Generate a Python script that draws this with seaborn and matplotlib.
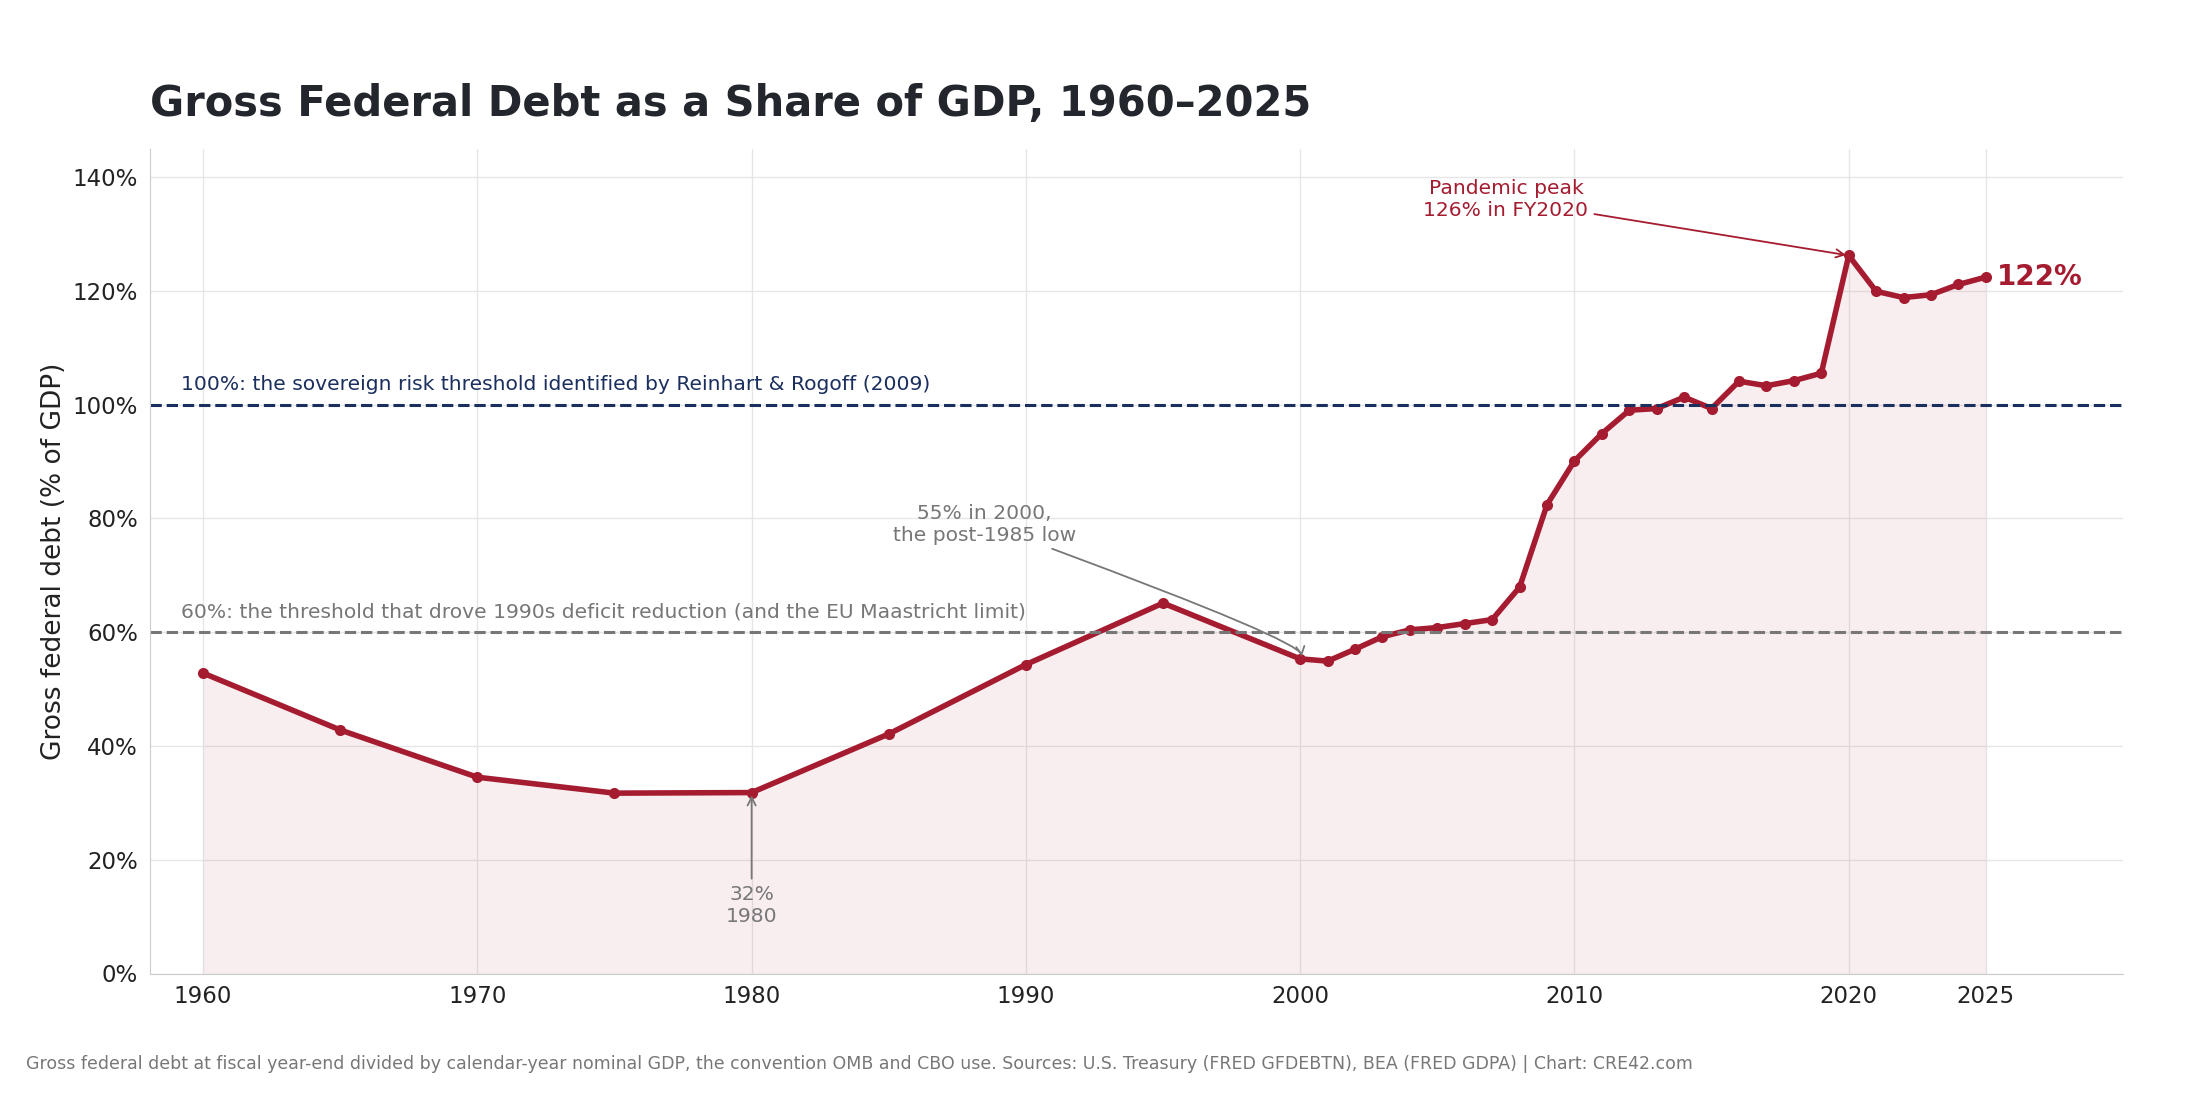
import numpy as np
import pandas as pd
import matplotlib
matplotlib.use('Agg')
import matplotlib.pyplot as plt
import seaborn as sns

years = [1960, 1965, 1970, 1975, 1980, 1985, 1990, 1995, 2000, 2001, 2002, 2003, 2004,
         2005, 2006, 2007, 2008, 2009, 2010, 2011, 2012, 2013, 2014, 2015, 2016, 2017,
         2018, 2019, 2020, 2021, 2022, 2023, 2024, 2025]
debt = [52.8, 42.8, 34.5, 31.7, 31.8, 42.1, 54.3, 65.1, 55.3, 54.9, 57.0, 59.2, 60.4,
        60.8, 61.5, 62.2, 67.9, 82.4, 90.1, 94.9, 99.0, 99.3, 101.3, 99.3, 104.1, 103.3,
        104.2, 105.5, 126.2, 119.9, 118.8, 119.3, 121.1, 122.4]
xticks = [1960, 1970, 1980, 1990, 2000, 2010, 2020, 2025]

red = '#A51C30'
navy = '#1B2F5E'
grey = '#777777'

sns.set_style('white')
plt.rcParams['font.family'] = ['DejaVu Sans']
df = pd.DataFrame({'year': years, 'debt': debt})

fig = plt.figure(figsize=(22, 11), dpi=100)
ax = fig.add_axes([0.068, 0.115, 0.897, 0.75])
ax.fill_between(df['year'], df['debt'], color=red, alpha=0.07, lw=0)
sns.lineplot(data=df, x='year', y='debt', ax=ax, color=red, lw=4, marker='o',
             markersize=8, markeredgewidth=0)

ax.axhline(100, color=navy, ls='--', lw=2.2)
ax.axhline(60, color=grey, ls='--', lw=2.2)
ax.text(1959.2, 102.5, '100%: the sovereign risk threshold identified by Reinhart & Rogoff (2009)',
        color=navy, fontsize=14.6)
ax.text(1959.2, 62.5, '60%: the threshold that drove 1990s deficit reduction (and the EU Maastricht limit)',
        color=grey, fontsize=14.6)

ax.annotate('Pandemic peak\n126% in FY2020', xy=(2020, 126.2), xytext=(2007.5, 136),
            ha='center', va='center', color=red, fontsize=14.6,
            arrowprops=dict(arrowstyle='->', color=red, lw=1.3))
ax.annotate('55% in 2000,\nthe post-1985 low', xy=(2000, 55.3), xytext=(1988.5, 79),
            ha='center', va='center', color=grey, fontsize=14.6,
            arrowprops=dict(arrowstyle='->', color=grey, lw=1.3, connectionstyle='angle3,angleA=-20,angleB=25'))
ax.annotate('32%\n1980', xy=(1980, 31.8), xytext=(1980, 12),
            ha='center', va='center', color=grey, fontsize=14.6,
            arrowprops=dict(arrowstyle='->', color=grey, lw=1.3))
ax.text(2025.4, 122.4, '122%', color=red, fontsize=20, fontweight='bold', va='center')

ax.set_xlim(1958.05, 2030)
ax.set_ylim(0, 145)
ax.set_xticks(xticks)
ax.set_yticks(range(0, 141, 20))
ax.set_yticklabels([f'{v}%' for v in range(0, 141, 20)])
ax.tick_params(labelsize=16.5, colors='#222222', length=5)
ax.grid(True, color='#e6e6e6', lw=1)
ax.set_xlabel('')
ax.set_ylabel('Gross federal debt (% of GDP)', fontsize=19, color='#222222')
for s in ['top', 'right']:
    ax.spines[s].set_visible(False)
for s in ['left', 'bottom']:
    ax.spines[s].set_color('#cccccc')

fig.text(0.068, 0.895, 'Gross Federal Debt as a Share of GDP, 1960\u20132025',
         fontsize=30, fontweight='bold', color='#23262d')
fig.text(0.012, 0.028, 'Gross federal debt at fiscal year-end divided by calendar-year nominal GDP, '
         'the convention OMB and CBO use. Sources: U.S. Treasury (FRED GFDEBTN), BEA (FRED GDPA) | Chart: CRE42.com',
         fontsize=12.5, color=grey)

fig.savefig('out.png', dpi=100)
